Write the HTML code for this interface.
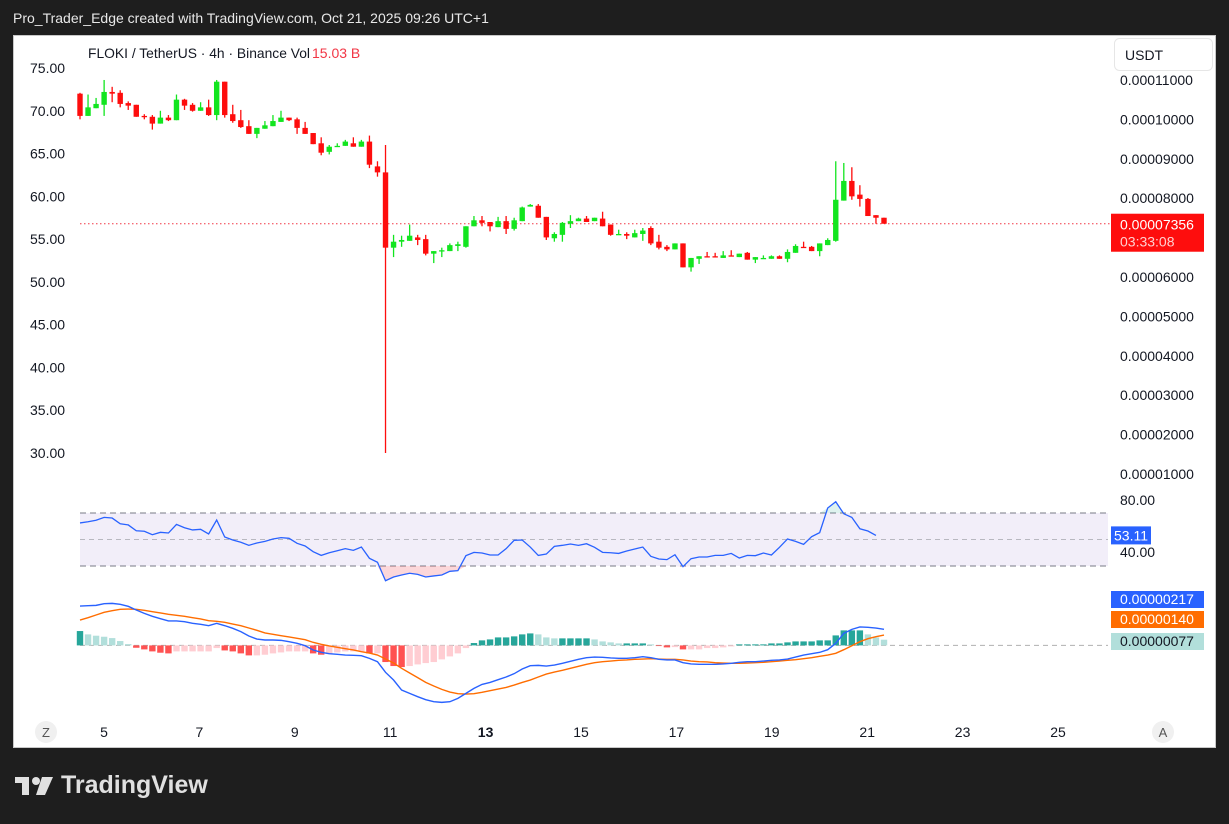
<!DOCTYPE html>
<html><head><meta charset="utf-8"><style>
html,body{margin:0;padding:0;background:#1e1e1e;width:1229px;height:824px;overflow:hidden;font-family:"Liberation Sans",sans-serif}
#hdr{position:absolute;left:13px;top:10px;color:#e8e8e8;font-size:14px}
#panel{position:absolute;left:13px;top:35px;width:1203px;height:713px;background:#fff}
svg{position:absolute;left:0;top:0}
#logo{position:absolute;left:15px;top:771px;color:#e0e0e0;font-size:25px;font-weight:bold;display:flex;align-items:center;gap:8px}
</style></head><body>
<div id="hdr">Pro_Trader_Edge created with TradingView.com, Oct 21, 2025 09:26 UTC+1</div>
<div id="panel"></div>
<svg id="chart" width="1229" height="824"></svg>
<div id="logo"><svg width="38" height="22" style="position:static"><rect x="0" y="2" width="14" height="6" fill="#e0e0e0"/><rect x="7" y="2" width="7" height="18" fill="#e0e0e0"/><circle cx="21" cy="6" r="4" fill="#e0e0e0"/><polygon points="27,2 38,2 30,20 21,20" fill="#e0e0e0"/></svg><span>TradingView</span></div>
<script>
const opens=[72.0,69.4,70.3,70.7,72.2,72.1,70.9,70.7,69.4,69.3,68.5,69.2,68.9,71.3,70.7,70.0,70.4,69.5,73.4,69.6,68.9,68.2,67.3,67.9,68.2,68.7,69.2,69.0,68.0,67.4,66.2,65.2,65.8,65.9,66.2,65.8,66.4,63.5,62.8,54.0,54.7,54.8,55.2,55.0,53.3,53.6,53.6,54.2,54.1,56.5,57.2,57.0,56.4,57.1,56.2,57.1,58.8,58.9,57.6,55.1,55.5,56.8,57.1,57.4,57.1,57.4,56.7,55.5,55.6,55.2,55.6,56.3,54.7,54.1,53.8,54.5,51.7,52.7,53.0,53.0,52.8,53.1,52.9,53.4,52.6,52.8,52.7,53.0,52.7,53.4,54.1,54.1,53.6,54.3,54.8,59.5,61.8,60.2,59.7,57.8,57.5];
const closes=[69.4,70.4,70.8,72.2,72.0,70.8,70.6,69.3,69.3,68.5,69.2,68.9,71.3,70.6,70.0,70.4,69.5,73.4,69.5,68.8,68.1,67.3,68.0,68.3,68.8,69.2,68.9,68.0,67.3,66.1,65.1,65.8,65.9,66.4,65.8,66.4,63.7,62.8,54.0,54.7,54.9,55.4,54.9,53.3,53.6,53.7,54.3,54.4,56.5,57.2,56.9,56.5,57.1,56.2,57.2,58.7,59.0,57.5,55.2,55.6,56.9,57.1,57.4,57.0,57.5,56.5,55.5,55.6,55.4,55.7,56.0,54.5,54.0,53.8,54.5,51.7,52.8,53.0,52.9,52.9,53.1,53.0,53.3,52.6,52.9,52.8,53.0,52.7,53.5,54.2,54.0,53.6,54.5,54.9,59.6,61.8,60.0,59.7,57.7,57.5,56.8];
const highs=[72.1,71.9,71.5,73.6,72.8,72.4,71.1,70.7,69.6,69.5,70.0,69.5,71.9,71.4,70.9,71.0,71.3,73.6,73.4,70.7,70.1,68.9,68.0,68.8,69.5,70.0,69.2,69.2,68.7,67.4,66.9,66.0,66.2,66.6,66.9,66.6,67.1,64.1,66.0,55.5,55.4,56.7,55.5,55.5,53.6,54.0,54.5,54.7,56.5,57.7,57.7,57.0,57.6,57.7,57.5,58.8,59.1,59.1,57.6,55.8,57.0,57.8,57.5,57.7,57.5,58.2,56.7,56.1,55.8,56.1,56.3,56.5,55.5,54.3,54.5,54.5,52.8,53.0,53.5,53.4,53.6,53.7,53.3,53.5,52.9,53.1,53.1,53.1,53.8,54.4,54.7,54.2,54.5,55.1,64.1,63.9,63.4,61.3,59.8,57.8,57.5];
const lows=[69.0,69.4,70.3,69.4,71.0,70.4,70.1,69.3,69.0,67.8,68.5,68.8,68.9,70.1,69.9,70.0,69.4,68.9,69.2,68.6,68.0,67.3,66.8,67.9,68.2,68.7,68.8,67.3,67.3,66.1,64.8,64.9,65.8,65.9,65.8,65.8,63.3,62.3,30.0,52.9,54.1,54.8,54.3,53.1,52.2,52.9,53.6,53.6,54.0,56.5,56.5,55.9,56.4,55.6,56.0,57.1,58.8,57.5,54.9,54.7,54.7,56.3,57.1,57.0,57.1,56.5,55.4,55.5,55.0,55.2,54.8,54.3,53.8,53.6,53.8,51.7,51.2,52.1,52.9,52.9,52.8,53.0,52.9,52.6,52.2,52.8,52.7,52.7,52.3,53.4,54.0,53.6,53.0,54.3,54.7,59.5,59.6,58.8,57.7,56.8,56.8];
const rsi=[62.5,63.4,64.5,66.7,66.2,61.9,61,56.6,56.2,53.6,55.4,54.9,61.4,58.9,57.2,57.7,54.2,64.7,51.9,49.6,47.9,45.6,47.4,48.6,50.4,51.4,50.9,47.1,45.1,40.8,38,40,41.5,43.1,41.8,44.3,35.8,32.8,18.9,21.7,23.2,24.5,23.7,21.7,22.5,23.2,26,26.5,37.8,40.3,39.8,38.3,38.3,43.1,49.4,49.6,44.3,38,39,44.8,45.6,46.6,45.6,46.8,44.1,40.3,40,39.5,41.3,42.8,44.3,37.3,35.3,34.8,38.5,29.5,35.5,36.8,36.8,38,38,39.5,36,38,37.8,39.8,38.3,44.1,50.4,48.6,46.3,52.1,55.2,73.8,78.5,69.4,66.7,58.1,56.4,53.1];
// MACD in units of 1e-8
const macd=[532,537,541,564,568,555,528,478,433,393,361,330,330,321,298,285,267,298,267,231,186,127,86,73,73,68,50,28,-4,-62,-94,-112,-121,-130,-134,-139,-175,-220,-364,-468,-603,-648,-693,-734,-761,-770,-761,-716,-648,-581,-527,-500,-463,-427,-382,-319,-274,-270,-279,-265,-242,-215,-188,-166,-157,-161,-170,-175,-175,-166,-152,-166,-188,-197,-197,-233,-251,-256,-256,-256,-251,-242,-229,-220,-220,-211,-202,-197,-184,-157,-130,-112,-94,-58,28,163,217,249,244,235,217];
const signal=[343,375,411,447,469,487,491,487,474,456,438,420,406,393,375,357,334,325,312,289,267,235,204,168,150,131,114,95,77,41,14,-8,-26,-44,-62,-85,-103,-130,-184,-238,-310,-373,-436,-500,-549,-594,-630,-652,-657,-652,-634,-612,-590,-568,-536,-500,-468,-427,-387,-360,-337,-310,-283,-256,-233,-220,-211,-202,-197,-188,-184,-179,-184,-188,-188,-197,-211,-220,-224,-233,-238,-242,-242,-238,-233,-229,-220,-211,-202,-193,-179,-166,-148,-130,-107,-58,-4,50,91,118,140];
const hist=[194,149,131,117,99,59,18,-32,-54,-81,-99,-108,-81,-81,-81,-81,-81,-36,-68,-81,-108,-135,-135,-126,-108,-95,-81,-81,-81,-108,-126,-117,-95,-81,-81,-81,-108,-108,-225,-279,-293,-279,-257,-239,-225,-189,-149,-108,-36,32,68,81,108,108,122,149,162,149,108,95,95,95,95,95,81,54,41,27,27,27,27,14,-9,-27,-23,-54,-54,-54,-36,-36,-27,-14,14,14,14,14,27,27,41,54,54,54,68,68,135,203,203,203,149,108,77];
const leftTicks=[75,70,65,60,55,50,45,40,35,30];
const rightTicks=["0.00011000","0.00010000","0.00009000","0.00008000","0.00006000","0.00005000","0.00004000","0.00003000","0.00002000","0.00001000"];
const rightTickVals=[11,10,9,8,6,5,4,3,2,1];
const dayLabels=[5,7,9,11,13,15,17,19,21,23,25];
const lastPrice="0.00007356", countdown="03:33:08", rsiLast="53.11";
const macdLabels=["0.00000217","0.00000140","0.00000077"];

const S=document.getElementById('chart');const NS="http://www.w3.org/2000/svg";
function mk(t,a,txt){const e=document.createElementNS(NS,t);for(const k in a)e.setAttribute(k,a[k]);if(txt!==undefined)e.textContent=txt;S.appendChild(e);return e;}
const xi=i=>80+8.04*i;
const yp=p=>68+(75-p)*8.556;
const yr=v=>513+(70-v)*1.325;
const ym=v=>645.4-v*0.074;
const yRight=v=>80+(11-v)*39.4;
const xDay=d=>104+(d-5)*47.7;
const FONT='"Liberation Sans",sans-serif';

let e=mk('rect',{x:13.5,y:35.5,width:1202,height:712,fill:'none',stroke:'#c8c8c8'});



// legend
e=mk('text',{x:88,y:58,'font-size':14,fill:'#131722','font-family':FONT,textLength:222,lengthAdjust:'spacingAndGlyphs'},'FLOKI / TetherUS · 4h · Binance  Vol');


e=mk('text',{x:312,y:58,'font-size':14,fill:'#f23645','font-family':FONT},'15.03 B');



leftTicks.forEach(v=>{e=mk('text',{x:30,y:yp(v)+5,'font-size':14,fill:'#131722','font-family':FONT},v.toFixed(2));

});
rightTickVals.forEach((v,k)=>{e=mk('text',{x:1120,y:yRight(v)+5,'font-size':14,fill:'#131722','font-family':FONT},rightTicks[k]);

});
e=mk('rect',{x:1114.5,y:38.5,width:98,height:32,rx:5,fill:'#fff',stroke:'#e6e6e6'});


e=mk('text',{x:1125,y:60,'font-size':14,fill:'#131722','font-family':FONT},'USDT');



const lastY=yp(closes[closes.length-1]);
e=mk('line',{x1:80,x2:1110,y1:lastY,y2:lastY,stroke:'#f23645','stroke-dasharray':'1.5 2.5','stroke-width':1});



for(let i=0;i<closes.length;i++){
 const up=closes[i]>=opens[i];const c=up?'#12e51f':'#fe0d0d';const x=xi(i);
 e=mk('line',{x1:x,x2:x,y1:yp(highs[i]),y2:yp(lows[i]),stroke:c,'stroke-width':1.3});
 
 
 const t=yp(Math.max(opens[i],closes[i])),b=yp(Math.min(opens[i],closes[i]));
 e=mk('rect',{x:x-2.7,y:t,width:5.4,height:Math.max(1.3,b-t),fill:c});
 
 
}
e=mk('rect',{x:1111,y:lastY-10,width:93,height:38,fill:'#fe0d0d'});


e=mk('text',{x:1120,y:lastY+6,'font-size':14,fill:'#fff','font-family':FONT},lastPrice);


e=mk('text',{x:1120,y:lastY+23,'font-size':14,fill:'#ffd0d0','font-family':FONT},countdown);



// RSI panel
e=mk('rect',{x:80,y:yr(70),width:1028,height:yr(30)-yr(70),fill:'#7e57c2','fill-opacity':0.1});


[70,50,30].forEach(v=>{e=mk('line',{x1:80,x2:1108,y1:yr(v),y2:yr(v),stroke:v==50?'#b8b8c0':'#787b86','stroke-dasharray':v==50?'5 4':'6 4'});

});
const rp=rsi.map((v,i)=>[xi(i),yr(v)]);
let dpts=rp.map(p=>p[0]+','+Math.max(p[1],yr(30))).join(' ');
e=mk('polygon',{points:xi(0)+','+yr(30)+' '+dpts+' '+xi(rsi.length-1)+','+yr(30),fill:'#f23645','fill-opacity':0.2});


dpts=rp.map(p=>p[0]+','+Math.min(p[1],yr(70))).join(' ');
e=mk('polygon',{points:xi(0)+','+yr(70)+' '+dpts+' '+xi(rsi.length-1)+','+yr(70),fill:'#22ab94','fill-opacity':0.15});


e=mk('polyline',{points:rp.map(p=>p.join(',')).join(' '),fill:'none',stroke:'#2962ff','stroke-width':1.3});


e=mk('text',{x:1120,y:505,'font-size':14,fill:'#131722','font-family':FONT},'80.00');


e=mk('text',{x:1120,y:557,'font-size':14,fill:'#131722','font-family':FONT},'40.00');


const ry=yr(rsi[rsi.length-1]);
e=mk('rect',{x:1111,y:ry-9,width:40,height:18,fill:'#2962ff'});


e=mk('text',{x:1114,y:ry+5,'font-size':14,fill:'#fff','font-family':FONT},rsiLast);



// MACD
e=mk('line',{x1:80,x2:1108,y1:ym(0),y2:ym(0),stroke:'#b0b0b0','stroke-dasharray':'5 4'});


for(let i=0;i<hist.length;i++){
 const v=hist[i],p=i>0?hist[i-1]:v;let c;
 if(v>=0)c=v>=p?'#26a69a':'#b2dfdb';else c=v<p?'#ff5252':'#ffcdd2';
 const y0=ym(0),y1=ym(v);
 e=mk('rect',{x:xi(i)-3.2,y:Math.min(y0,y1),width:6.4,height:Math.abs(y1-y0),fill:c});
 
 
}
e=mk('polyline',{points:signal.map((v,i)=>xi(i)+','+ym(v)).join(' '),fill:'none',stroke:'#ff6d00','stroke-width':1.4});


e=mk('polyline',{points:macd.map((v,i)=>xi(i)+','+ym(v)).join(' '),fill:'none',stroke:'#2962ff','stroke-width':1.4});


const mcols=['#2962ff','#ff6d00','#b2dfdb'],mtx=['#fff','#fff','#131722'],mys=[599,619,641];
macdLabels.forEach((t,k)=>{e=mk('rect',{x:1111,y:mys[k]-8,width:93,height:17,fill:mcols[k]});


e=mk('text',{x:1120,y:mys[k]+5,'font-size':14,fill:mtx[k],'font-family':FONT},t);

});

// time axis
dayLabels.forEach(d=>{e=mk('text',{x:xDay(d),y:737,'font-size':14,fill:'#131722','text-anchor':'middle','font-weight':d==13?'bold':'normal','font-family':FONT},String(d));

});
e=mk('circle',{cx:46,cy:732,r:11,fill:'#f0f0f0'});


e=mk('text',{x:46,y:737,'font-size':13,fill:'#555','text-anchor':'middle','font-family':FONT},'Z');


e=mk('circle',{cx:1163,cy:732,r:11,fill:'#f0f0f0'});


e=mk('text',{x:1163,y:737,'font-size':13,fill:'#555','text-anchor':'middle','font-family':FONT},'A');


</script>
</body></html>
